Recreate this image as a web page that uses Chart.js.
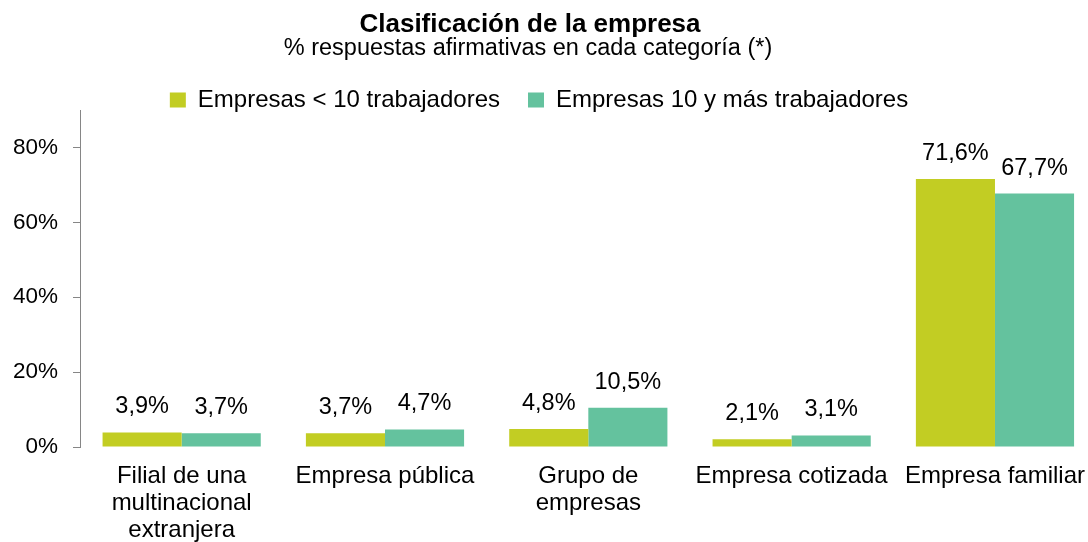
<!DOCTYPE html>
<html>
<head>
<meta charset="utf-8">
<script src="https://cdn.jsdelivr.net/npm/chart.js@4"></script>
<style>
  html, body { margin: 0; background: #fff; overflow: hidden; }
  #wrap { width: 1101px; height: 542px; position: relative; }
</style>
</head>
<body>
<div id="wrap"><canvas id="empresaChart"></canvas></div>
<script>
const categorias = [
  ["Filial de una", "multinacional", "extranjera"],
  "Empresa pública",
  ["Grupo de", "empresas"],
  "Empresa cotizada",
  "Empresa familiar"
];
const menos10 = [3.9, 3.7, 4.8, 2.1, 71.6];
const diezYMas = [3.7, 4.7, 10.5, 3.1, 67.7];
const yTicks = [0, 20, 40, 60, 80];

const titulo = "Clasificación de la empresa";
const subtitulo = "% respuestas afirmativas en cada categoría (*)";
const FONT = "'Liberation Sans', Arial, sans-serif";

// etiquetas de valor encima de cada barra
const valueLabels = {
  id: "valueLabels",
  afterDatasetsDraw(chart) {
    const ctx = chart.ctx;
    ctx.save();
    ctx.font = "23.5px " + FONT;
    ctx.fillStyle = "#000";
    ctx.textAlign = "center";
    ctx.textBaseline = "alphabetic";
    chart.data.datasets.forEach((ds, i) => {
      chart.getDatasetMeta(i).data.forEach((bar, j) => {
        const txt = ds.data[j].toFixed(1).replace(".", ",") + "%";
        ctx.fillText(txt, bar.x, bar.y - 19);
      });
    });
    ctx.restore();
  }
};

// leyenda más compacta + títulos algo desplazados a la izquierda como en el original
const LEGEND_TRIM = 12;
const layoutTweaks = {
  id: "layoutTweaks",
  beforeLayout(chart) {
    const lg = chart.legend;
    if (lg && !lg._trimmed) {
      const fit = lg.fit;
      lg.fit = function () {
        fit.call(this);
        this.height -= LEGEND_TRIM;
      };
      lg._trimmed = true;
    }
  },
  afterLayout(chart) {
    chart.boxes.forEach(b => {
      let dx = 0;
      if (b === chart.legend) {
        dx = -11.5;
        b.bottom += LEGEND_TRIM; // para que el recorte no corte los descendentes
      } else if (b.options && b.options.text === titulo) dx = -20.5;
      else if (b.options && b.options.text === subtitulo) dx = -22.5;
      b.left += dx;
      b.right += dx;
    });
  }
};

new Chart(document.getElementById("empresaChart").getContext("2d"), {
  type: "bar",
  data: {
    labels: categorias,
    datasets: [
      { label: "Empresas < 10 trabajadores", data: menos10, backgroundColor: "#c2cd23" },
      { label: "Empresas 10 y más trabajadores", data: diezYMas, backgroundColor: "#64c29e" }
    ]
  },
  options: {
    responsive: true,
    maintainAspectRatio: false,
    animation: false,
    layout: { padding: 0 },
    datasets: {
      bar: { categoryPercentage: 0.778, barPercentage: 1.0 }
    },
    plugins: {
      title: {
        display: true,
        text: titulo,
        color: "#000",
        font: { family: FONT, size: 26, weight: "bold", lineHeight: 1.0 },
        padding: { top: 11.5, bottom: -1 }
      },
      subtitle: {
        display: true,
        text: subtitulo,
        color: "#000",
        font: { family: FONT, size: 23.5, lineHeight: 1.0 },
        padding: { top: 0, bottom: 0 }
      },
      legend: {
        position: "top",
        labels: {
          color: "#000",
          font: { family: FONT, size: 24 },
          boxWidth: 16,
          boxHeight: 15,
          padding: 28
        }
      },
      tooltip: { enabled: false }
    },
    scales: {
      x: {
        afterFit(scale) { scale.height = 95; },
        grid: { display: false, drawTicks: false },
        border: { display: false },
        ticks: {
          color: "#000",
          font: { family: FONT, size: 24, lineHeight: 1.125 },
          padding: 16,
          maxRotation: 0,
          autoSkip: false
        }
      },
      y: {
        min: 0,
        max: 90,
        afterFit(scale) { scale.width = 80; },
        afterBuildTicks(scale) {
          scale.ticks = yTicks.map(v => ({ value: v }));
        },
        grid: { drawOnChartArea: false, drawTicks: true, tickLength: 7, color: "#868686" },
        border: { display: true, color: "#868686", width: 1 },
        ticks: {
          color: "#000",
          font: { family: FONT, size: 22.5 },
          padding: 15,
          callback: v => v + "%"
        }
      }
    }
  },
  plugins: [valueLabels, layoutTweaks]
});
</script>
</body>
</html>
